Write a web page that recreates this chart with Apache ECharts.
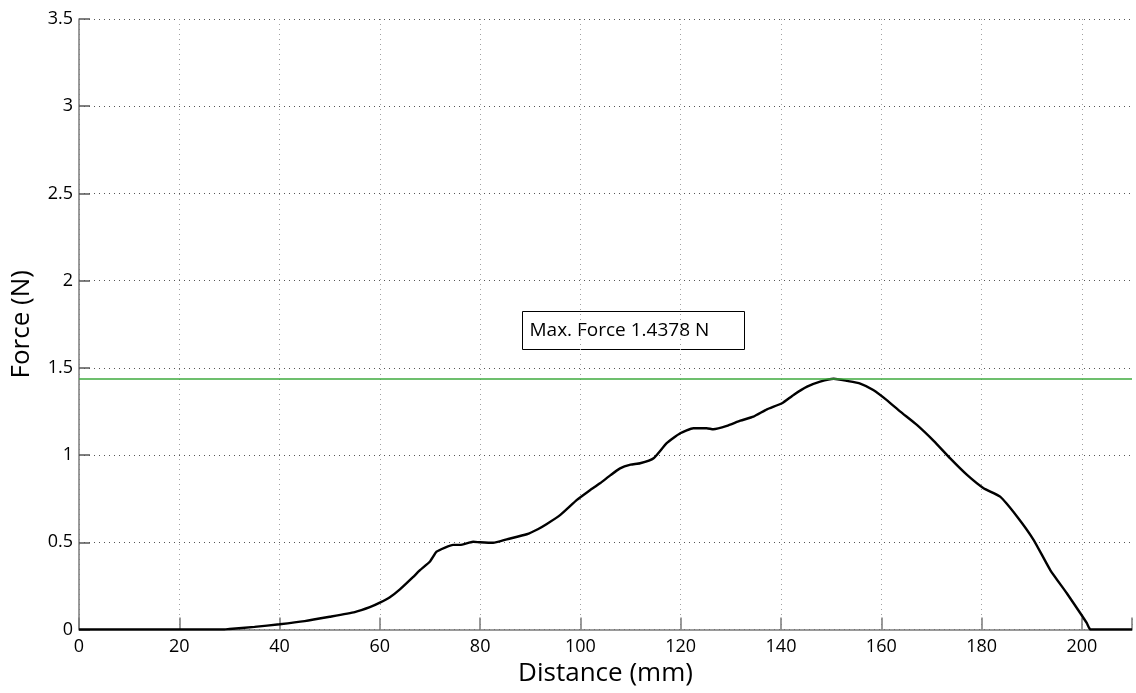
<!DOCTYPE html>
<html>
<head>
<meta charset="utf-8">
<script src="https://cdn.jsdelivr.net/npm/echarts@6/dist/echarts.min.js"></script>
<style>html,body{margin:0;padding:0;background:#fff;}#c{width:1136px;height:693px;}</style>
</head>
<body>
<div id="c"></div>
<script>
const distance = [0,10,20,29,30,35,40,45,50,55,58,60,62,64,66.6,68,70,71.3,73,74.6,76,78.6,80,82.6,85.3,89.3,91.5,93.3,96,99.3,101.5,103.9,106,107.9,110,111.9,114.6,117.2,119.9,122.5,125.2,126.5,129.2,131.9,134.5,137.2,140.2,142.5,145.2,147.8,150.5,153.2,155.8,158.4,161.1,163.8,167.1,170.5,173.7,177.1,180.4,183.7,187.1,190.4,193.7,197,199.7,201,201.7,205,210];
const force = [0,0,0,0,0.003,0.015,0.03,0.048,0.073,0.10,0.128,0.154,0.185,0.23,0.30,0.34,0.39,0.446,0.47,0.485,0.485,0.503,0.50,0.497,0.517,0.546,0.575,0.605,0.657,0.743,0.79,0.838,0.885,0.924,0.945,0.953,0.982,1.068,1.125,1.154,1.154,1.148,1.167,1.197,1.22,1.262,1.297,1.345,1.392,1.421,1.4378,1.425,1.41,1.373,1.315,1.249,1.173,1.08,0.982,0.886,0.81,0.762,0.647,0.513,0.341,0.208,0.093,0.036,0,0,0];
const maxForce = 1.4378;
const maxLabel = 'Max. Force 1.4378 N';
const xName = 'Distance (mm)';
const yName = 'Force (N)';

const FONT = 'Open Sans';
const chart = echarts.init(document.getElementById('c'), null, {renderer: 'canvas'});
chart.setOption({
  animation: false,
  backgroundColor: '#fff',
  grid: {left: 79, right: 4, top: 19, bottom: 63.5, containLabel: false},
  xAxis: {
    type: 'value', min: 0, max: 210, interval: 20,
    name: xName, nameLocation: 'middle', nameGap: 24,
    nameTextStyle: {fontFamily: FONT, fontSize: 26, color: '#000'},
    axisLine: {show: true, onZero: false, lineStyle: {color: '#7a7a7a', width: 1.5}},
    axisTick: {show: true, inside: true, length: 12, lineStyle: {color: '#7a7a7a', width: 1.5}},
    axisLabel: {fontFamily: FONT, fontSize: 18, color: '#000', margin: 8,
      formatter: v => (v === 210 ? '' : String(v))},
    splitLine: {show: true, lineStyle: {color: '#a0a0a0', type: [1, 4], width: 1}}
  },
  yAxis: {
    type: 'value', min: 0, max: 3.5, interval: 0.5,
    name: yName, nameLocation: 'middle', nameGap: 44, nameRotate: 90,
    nameTextStyle: {fontFamily: FONT, fontSize: 26, color: '#000'},
    axisLine: {show: true, lineStyle: {color: '#7a7a7a', width: 1.5}},
    axisTick: {show: true, inside: true, length: 11, lineStyle: {color: '#555', width: 1.5}},
    axisLabel: {fontFamily: FONT, fontSize: 18, color: '#000', margin: 6},
    splitLine: {show: true, lineStyle: {color: '#555', type: [1, 4], width: 1}}
  },
  series: [{
    type: 'line',
    data: distance.map((d, i) => [d, force[i]]),
    showSymbol: false,
    smooth: 0.15,
    lineStyle: {color: '#000', width: 2.4},
    z: 3,
    markLine: {
      silent: true, symbol: 'none',
      label: {show: false},
      lineStyle: {color: '#3daa3d', width: 1.5, type: 'solid'},
      data: [{yAxis: maxForce}]
    }
  }],
  graphic: [
    {type: 'rect', left: 1130, top: 15, z: 1, silent: true,
     shape: {width: 6, height: 600}, style: {fill: '#fff'}},
    {
    type: 'group', left: 522, top: 311, z: 10,
    children: [
      {type: 'rect', shape: {x: 0, y: 0, width: 222, height: 38}, style: {fill: '#fff', stroke: '#000', lineWidth: 1}},
      {type: 'text', x: 7, y: 19, style: {text: maxLabel, font: '19px "' + FONT + '"', fill: '#000', verticalAlign: 'middle'}}
    ]
  }]
});
</script>
</body>
</html>
